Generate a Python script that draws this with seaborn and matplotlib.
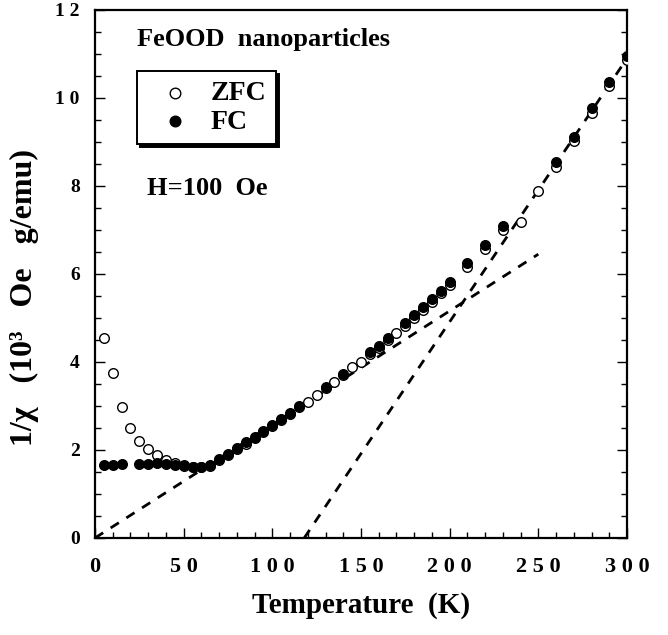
import matplotlib
matplotlib.use('Agg')
import matplotlib.pyplot as plt
from matplotlib.ticker import MultipleLocator
import pandas as pd
import seaborn as sns

# data
T_zfc = [5, 10, 15, 20, 25, 30, 35, 40, 45, 50, 55, 60, 65, 70, 75, 80, 85, 90, 95, 100,
         105, 110, 115, 120, 125, 130, 135, 140, 145, 150, 155, 160, 165, 170, 175, 180,
         185, 190, 195, 200, 210, 220, 230, 240, 250, 260, 270, 280, 290, 300]
chi_zfc = [4.55, 3.76, 2.98, 2.49, 2.21, 2.03, 1.89, 1.77, 1.70, 1.65, 1.61, 1.61, 1.64,
           1.77, 1.89, 2.02, 2.14, 2.27, 2.40, 2.54, 2.68, 2.82, 2.97, 3.10, 3.25, 3.40,
           3.55, 3.70, 3.89, 4.00, 4.17, 4.32, 4.50, 4.65, 4.82, 5.01, 5.18, 5.37, 5.56,
           5.76, 6.16, 6.57, 6.99, 7.17, 7.89, 8.44, 9.02, 9.65, 10.27, 10.87]

T_fc = [5, 10, 15, 25, 30, 35, 40, 45, 50, 55, 60, 65, 70, 75, 80, 85, 90, 95, 100, 105,
        110, 115, 130, 140, 155, 160, 165, 175, 180, 185, 190, 195, 200, 210, 220, 230,
        260, 270, 280, 290, 300]
chi_fc = [1.66, 1.66, 1.67, 1.68, 1.68, 1.71, 1.67, 1.66, 1.64, 1.61, 1.61, 1.66, 1.79,
          1.91, 2.04, 2.17, 2.30, 2.43, 2.57, 2.71, 2.85, 3.01, 3.44, 3.73, 4.22, 4.36,
          4.55, 4.88, 5.07, 5.24, 5.42, 5.62, 5.82, 6.25, 6.66, 7.08, 8.55, 9.12, 9.77,
          10.37, 10.95]

# dashed guide lines
fit1_T = [0, 250]
fit1_chi = [0, 6.45]
fit2_T = [118, 300]
fit2_chi = [0, 10.9]

xtick_vals = [0, 50, 100, 150, 200, 250, 300]
xtick_labels = ['0', '5 0', '1 0 0', '1 5 0', '2 0 0', '2 5 0', '3 0 0']
ytick_vals = [0, 2, 4, 6, 8, 10, 12]
ytick_labels = ['0', '2', '4', '6', '8', '1 0', '1 2']

sns.set_style('ticks')
plt.rcParams['font.family'] = ['Liberation Serif', 'DejaVu Serif']
plt.rcParams['font.weight'] = 'bold'
plt.rcParams['text.color'] = 'black'
plt.rcParams['axes.labelcolor'] = 'black'
plt.rcParams['xtick.color'] = 'black'
plt.rcParams['ytick.color'] = 'black'
plt.rcParams['axes.edgecolor'] = 'black'

fig = plt.figure(figsize=(6.68, 6.35), dpi=100)
ax = fig.add_axes([0.1422, 0.1528, 0.7964, 0.8315])

ax.plot(fit1_T, fit1_chi, color='black', lw=2.0, ls=(0, (3.5, 3.2)))
ax.plot(fit2_T, fit2_chi, color='black', lw=2.0, ls=(0, (3.5, 3.2)))

zfc = pd.DataFrame({'T': T_zfc, 'chi': chi_zfc})
fc = pd.DataFrame({'T': T_fc, 'chi': chi_fc})
sns.scatterplot(data=zfc, x='T', y='chi', ax=ax, marker='o', s=48,
                facecolor='white', edgecolor='black', linewidth=1.0, label='ZFC', zorder=3)
sns.scatterplot(data=fc, x='T', y='chi', ax=ax, marker='o', s=48,
                color='black', edgecolor='black', linewidth=1.0, label='FC', zorder=4)

ax.set_xlim(0, 300)
ax.set_ylim(0, 12)
ax.set_xticks(xtick_vals)
ax.set_xticklabels(xtick_labels, fontsize=16, fontweight='bold')
ax.set_yticks(ytick_vals)
ax.set_yticklabels(ytick_labels, fontsize=14, fontweight='bold')
ax.xaxis.set_minor_locator(MultipleLocator(10))
ax.yaxis.set_minor_locator(MultipleLocator(0.5))
ax.tick_params(axis='both', which='both', direction='in', width=1.0)
ax.tick_params(axis='x', which='major', length=7, pad=14)
ax.tick_params(axis='y', which='major', length=7, pad=11, right=True)
ax.tick_params(axis='x', which='minor', length=4)
ax.tick_params(axis='y', which='minor', length=4, right=True)
for sp in ax.spines.values():
    sp.set_linewidth(1.6)
    sp.set_visible(True)

ax.set_xlabel('Temperature  (K)', fontsize=21, fontweight='bold')
ax.xaxis.set_label_coords(0.5, -0.103)
ax.set_ylabel('1/χ   (10³   Oe   g/emu)', fontsize=23, fontweight='bold')
ax.yaxis.set_label_coords(-0.105, 0.456)

ax.text(23.7, 11.32, 'FeOOD  nanoparticles', fontsize=19, fontweight='bold', va='center', ha='left')
ax.text(29.3, 7.95, 'H=100  Oe', fontsize=19, fontweight='bold', va='center', ha='left')

leg = ax.legend(loc='upper left', bbox_to_anchor=(0.079, 0.884), borderaxespad=0,
                fancybox=False, edgecolor='black', framealpha=1,
                shadow={'color': 'black', 'alpha': 1}, prop={'size': 20, 'weight': 'bold'},
                handletextpad=0.3, labelspacing=0.1, borderpad=0.35, markerscale=1.1)
leg.get_frame().set_linewidth(1.4)

fig.savefig('out.png', dpi=100)
